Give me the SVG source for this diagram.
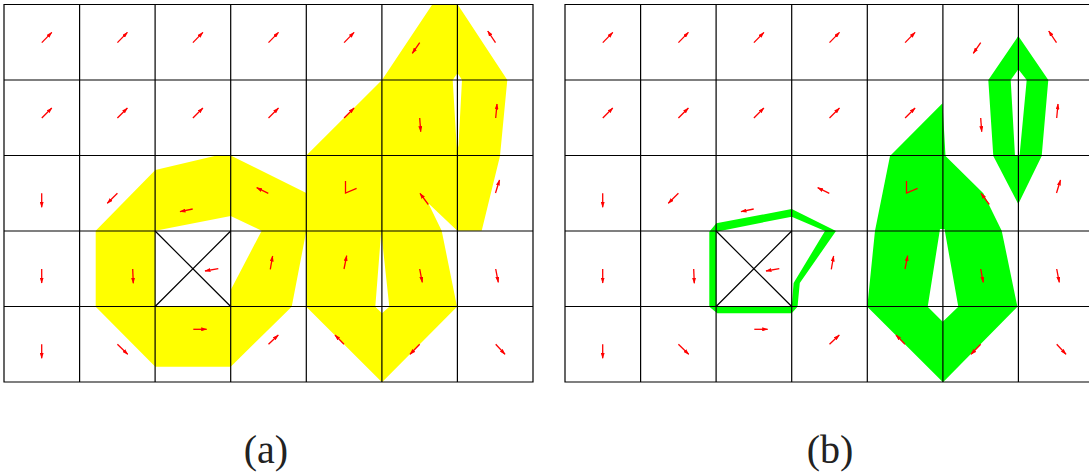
<svg xmlns="http://www.w3.org/2000/svg" xmlns:xlink="http://www.w3.org/1999/xlink" width="1089" height="474" viewBox="0 0 1089 474">
<style>
.grid{fill:none;stroke:#000;stroke-width:1.2}
.arr{fill:none;stroke:#f00;stroke-width:1.3;marker-end:url(#ah)}
.v{fill:none;stroke:#f00;stroke-width:1.3}
.yel{fill:#ffff00;fill-rule:evenodd}
.grn{fill:#00ff00;fill-rule:evenodd}
.lbl{font-family:"Liberation Serif",serif;font-size:40px;fill:#222;text-anchor:middle}
</style>
<defs>
<marker id="ah" viewBox="0 0 6 4" markerWidth="6" markerHeight="4" refX="5.5" refY="2" orient="auto" markerUnits="userSpaceOnUse">
<path d="M0,0 L6,2 L0,4 Z" fill="#f00"/>
</marker>
<g id="gridlines">
<path class="grid" d="M4,4.5 H533 V382 H4 Z M79.6,4.5 V382 M155.1,4.5 V382 M230.7,4.5 V382 M306.3,4.5 V382 M381.9,4.5 V382 M457.4,4.5 V382 M4,80 H533 M4,155.5 H533 M4,231 H533 M4,306.5 H533"/>
<path class="grid" stroke-width="1" d="M155.1,231 L230.7,306.5 M230.7,231 L155.1,306.5"/>
</g>
<g id="arrows">
<path class="arr" d="M41.8,42.6 L51.8,32.4"/>
<path class="arr" d="M117.4,42.6 L127.4,32.4"/>
<path class="arr" d="M192.9,42.6 L202.9,32.4"/>
<path class="arr" d="M268.5,42.6 L278.5,32.4"/>
<path class="arr" d="M344.1,42.6 L354.1,32.4"/>
<path class="arr" d="M419.7,42.6 L412.3,53.3"/>
<path class="arr" d="M495.5,42.6 L487.7,31"/>
<path class="arr" d="M41.8,118 L51.8,108"/>
<path class="arr" d="M117.4,118 L127.4,108"/>
<path class="arr" d="M192.9,118 L202.9,108"/>
<path class="arr" d="M268.5,118 L278.5,108"/>
<path class="arr" d="M344.1,118 L354.1,108"/>
<path class="arr" d="M419.7,118 L420.7,131.7"/>
<path class="arr" d="M495.7,118 L497,104"/>
<path class="arr" d="M41.7,193.3 L41.7,207.3"/>
<path class="arr" d="M117.4,193.3 L107.3,203.3"/>
<path class="arr" d="M192.7,209 L180,211.7"/>
<path class="arr" d="M268.3,193.3 L256.7,187.7"/>
<path class="v" d="M345.5,181 L345.5,193 L356.6,188.3"/>
<path class="arr" d="M428.3,204.5 L420,193.3"/>
<path class="arr" d="M495.5,193 L499.5,180"/>
<path class="arr" d="M41.7,269 L41.7,283"/>
<path class="arr" d="M132.7,269 L133.3,283.3"/>
<path class="arr" d="M218.3,268.7 L205,271"/>
<path class="arr" d="M270.3,269.3 L272.6,256"/>
<path class="arr" d="M344,269 L346.7,255.7"/>
<path class="arr" d="M419.7,269 L422.3,282.3"/>
<path class="arr" d="M495.7,269 L498.3,282.3"/>
<path class="arr" d="M41.7,344.3 L41.7,358.3"/>
<path class="arr" d="M117.4,344.3 L127.7,354.3"/>
<path class="arr" d="M193.3,329.3 L206.7,329.3"/>
<path class="arr" d="M268.5,344.3 L278.3,335"/>
<path class="arr" d="M344,344.3 L335,335"/>
<path class="arr" d="M419.7,344.3 L410,354.3"/>
<path class="arr" d="M495.7,344.3 L505,354.3"/>
</g>
</defs>
<g id="panel-a-regions">
<path id="yellow-loop" class="yel" d="M155.3,170 L216.7,155.5 L230.7,155.5 L306.3,193 L306.3,231 L291.7,306.7 L230.7,366.7 L155.3,366.7 L95.7,306.7 L95.7,230.7 Z M155.3,230.7 L230.7,216 L261.7,230.7 L230.7,290 L230.7,306.5 L155.3,306.5 Z"/>
<path id="yellow-main" class="yel" d="M432.3,4.5 L457.7,4.5 L507.3,80 L500,156 L481.7,230.7 L457.3,230.7 L428.3,203.3 L441.7,230.7 L457,306.7 L382,382.3 L306.3,306.7 L306.3,155.5 L382,80 Z M457.5,73 L462,80 L458.5,145 L457,152 L452.7,80 Z M381.2,231.5 L389.3,306.7 L382,313.3 L375.3,306.7 Z"/>
</g>
<g id="panel-b-regions">
<path id="green-loop" class="grn" d="M709.3,231.7 L716.3,223.3 L791.7,209 L836,231 L799.8,283 L797.5,306.7 L791.7,313.3 L717.3,313.3 L709.3,306.7 Z M716.3,231.7 L791.7,216.7 L825,231 L793.6,283 L791.7,306.7 L716.3,306.7 Z"/>
<path id="green-ring" class="grn" d="M1018.3,36 L1048.3,80 L1041.7,156 L1018.3,204 L993.3,156 L988.3,80 Z M1018.3,69.3 L1026.7,80 L1019.5,156 L1015,156 L1010.7,80 Z"/>
<path id="green-main" class="grn" d="M942.5,103.3 L945.5,156 L983.3,193.3 L1001.7,230.7 L1017.4,306.7 L943,382.3 L867.3,306.7 L875,230.7 L890,156 Z M940,229 L944.5,229 L958.3,306.7 L942.7,321.7 L927.7,306.7 Z"/>
</g>
<g id="grids">
<use xlink:href="#gridlines"/>
<use xlink:href="#gridlines" transform="translate(561,0)"/>
</g>
<g id="vectors">
<use xlink:href="#arrows"/>
<use xlink:href="#arrows" transform="translate(561,0)"/>
</g>
<g id="labels">
<text class="lbl" x="266" y="463">(a)</text>
<text class="lbl" x="830" y="463">(b)</text>
</g>
</svg>
